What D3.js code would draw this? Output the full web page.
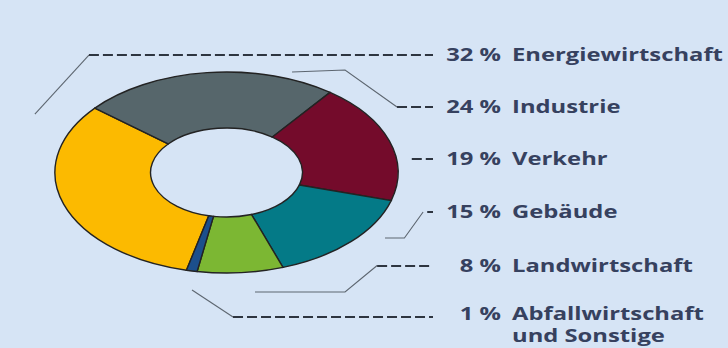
<!DOCTYPE html>
<html>
<head>
<meta charset="utf-8">
<script src="https://cdn.jsdelivr.net/npm/d3@7/dist/d3.min.js"></script>
<style>
  html, body { margin: 0; padding: 0; background: #d6e4f5; }
  svg { display: block; }
</style>
</head>
<body>
<svg id="chart" width="728" height="348"></svg>
<script>
// Treibhausgasemissionen nach Sektoren (Anteile in Prozent)
const categories = ["Energiewirtschaft", "Industrie", "Verkehr", "Gebäude", "Landwirtschaft", "Abfallwirtschaft\nund Sonstige"];
const values = [32, 24, 19, 15, 8, 1];
const colors = ["#fcba00", "#56666b", "#740b2b", "#047a87", "#7cb733", "#1c4f8c"];
const valueLabels = values.map(v => v + " %");

const W = 728, H = 348;
const svg = d3.select("#chart");

// Donut geometry (ellipse: circle stretched horizontally)
const cx = 226.5, cy = 172.5, rOuter = 100.5, rInner = 44.5, stretch = 1.707;
const rx = rOuter * stretch, ry = rOuter;

const deg = Math.PI / 180;
const start = 193.5 * deg;
const pie = d3.pie().sort(null).value(d => d).startAngle(start).endAngle(start + 2 * Math.PI);
const arc = d3.arc().innerRadius(rInner).outerRadius(rOuter);

const donut = svg.append("g")
  .attr("transform", `translate(${cx},${cy}) scale(${stretch},1)`);

donut.selectAll("path")
  .data(pie(values))
  .join("path")
  .attr("d", arc)
  .attr("fill", (d, i) => colors[i])
  .attr("stroke", "#232323")
  .attr("stroke-width", 1.4)
  .attr("vector-effect", "non-scaling-stroke");

// Label rows and leader lines (points in ellipse-relative units)
const rowY = [55, 107, 159, 212, 266, 317];
const dashEnd = 433;
const px = u => cx + u * rx;
const py = v => cy + v * ry;
const leaders = [
  { solid: [[-1.117, -0.582], [-0.802, -1.169]], dashFrom: -0.802 },
  { solid: [[0.382, -1.0], [0.691, -1.02], [0.994, -0.652]], dashFrom: 0.994 },
  { solid: [], dashFrom: 1.08 },
  { solid: [[0.924, 0.652], [1.037, 0.652], [1.146, 0.393]], dashFrom: 1.17 },
  { solid: [[0.166, 1.189], [0.691, 1.189], [0.878, 0.925]], dashFrom: 0.878 },
  { solid: [[-0.201, 1.169], [0.038, 1.438]], dashFrom: 0.038 }
];

const lead = svg.append("g").attr("fill", "none");
leaders.forEach((l, i) => {
  if (l.solid.length) {
    lead.append("path")
      .attr("d", d3.line()(l.solid.map(p => [px(p[0]), py(p[1])])))
      .attr("stroke", "#5d6670")
      .attr("stroke-width", 1.1);
  }
  lead.append("line")
    .attr("x1", px(l.dashFrom)).attr("y1", rowY[i])
    .attr("x2", dashEnd).attr("y2", rowY[i])
    .attr("stroke", "#2e3540")
    .attr("stroke-width", 2)
    .attr("stroke-dasharray", "10 4");
});

// Text labels
const textScale = 1.4;
const textColor = "#36415f";
const labels = svg.append("g")
  .attr("font-family", "'Open Sans', sans-serif")
  .attr("font-weight", 700)
  .attr("font-size", 17)
  .attr("fill", textColor);

categories.forEach((c, i) => {
  const y = rowY[i] + (i === categories.length - 1 ? 3 : 5.5);
  labels.append("text")
    .attr("transform", `translate(501,${y}) scale(${textScale},1)`)
    .attr("text-anchor", "end")
    .text(valueLabels[i]);
  const t = labels.append("text")
    .attr("transform", `translate(512,${y}) scale(${textScale},1)`);
  c.split("\n").forEach((line, k) => {
    t.append("tspan").attr("x", 0).attr("dy", k === 0 ? 0 : 22).text(line);
  });
});
</script>
</body>
</html>
